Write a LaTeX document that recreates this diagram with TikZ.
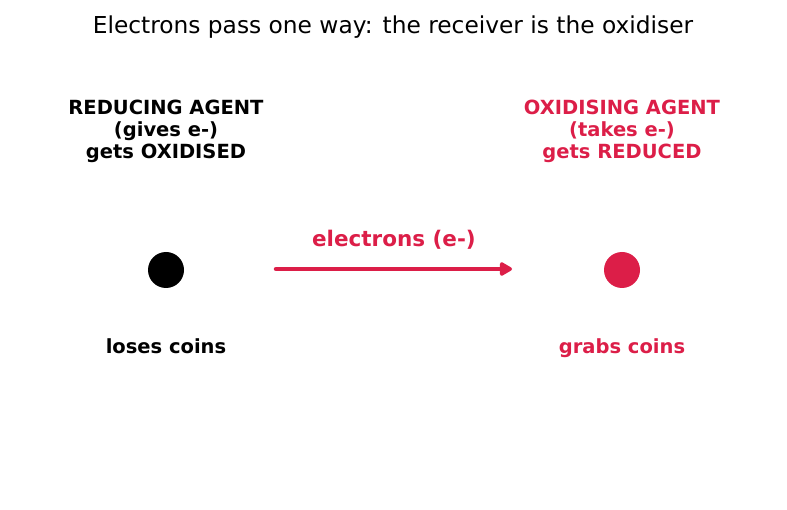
\documentclass[tikz,border=0pt]{standalone}
\usepackage{fontspec}
\setmainfont{DejaVu Sans}
\usetikzlibrary{arrows.meta,positioning}
\definecolor{oxid}{HTML}{DC1E48}

\begin{document}
\begin{tikzpicture}[x=1pt, y=-1pt, every node/.style={font=\fontsize{19.5}{22}\selectfont\bfseries, align=center, inner sep=0pt},
  dot/.style={circle, minimum size=36pt}]
\useasboundingbox (0,0) rectangle (787,510);
\node[font=\fontsize{23.3}{28}\selectfont] (title) at (393,27) {Electrons pass one way: the receiver is the oxidiser};
% the two agents
\node[dot, fill=black] (red) at (166,270) {};
\node[dot, fill=oxid] (ox) at (622,270) {};
\node (redlbl) at (166,131) {REDUCING AGENT\\(gives e-)\\gets OXIDISED};
\node[text=oxid] (oxlbl) at (622,131) {OXIDISING AGENT\\(takes e-)\\gets REDUCED};
\node[anchor=base] (redcoin) at (166,354) {loses coins};
\node[anchor=base, text=oxid] (oxcoin) at (622,354) {grabs coins};
% electron flow
\coordinate (a0) at (276,269);
\coordinate (a1) at (512,269);
\draw[oxid, line width=4.5pt, line cap=round, -{Triangle[length=14pt,width=15pt,round]}] (a0) -- (a1);
\node[text=oxid, font=\fontsize{21.5}{26}\selectfont\bfseries] (elbl) at (394,240) {electrons (e-)};
\end{tikzpicture}
\end{document}
